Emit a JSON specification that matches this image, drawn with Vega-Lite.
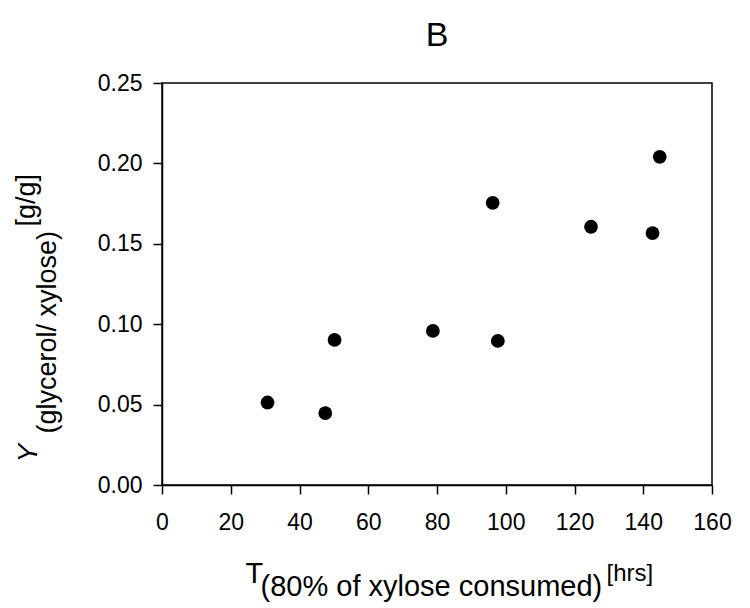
{
  "$schema": "https://vega.github.io/schema/vega-lite/v6.json",
  "width": 550,
  "height": 402,
  "autosize": "none",
  "padding": {"left": 162, "top": 83, "right": 38, "bottom": 123},
  "title": {
    "text": "B",
    "font": "Liberation Sans",
    "fontSize": 34,
    "fontWeight": "normal",
    "color": "black",
    "frame": "group",
    "anchor": "middle",
    "baseline": "alphabetic",
    "offset": 36,
    "dy": 44
  },
  "data": {
    "values": [
      {"t_hrs": 30.7, "yield": 0.0513},
      {"t_hrs": 47.5, "yield": 0.0447},
      {"t_hrs": 50.2, "yield": 0.0902},
      {"t_hrs": 78.8, "yield": 0.0958},
      {"t_hrs": 97.7, "yield": 0.0896},
      {"t_hrs": 96.2, "yield": 0.1755},
      {"t_hrs": 124.8, "yield": 0.1606},
      {"t_hrs": 142.7, "yield": 0.1567},
      {"t_hrs": 144.8, "yield": 0.2041}
    ]
  },
  "layer": [
    {
      "mark": {"type": "point", "filled": true, "size": 190, "color": "black", "opacity": 1},
      "encoding": {
        "x": {
          "field": "t_hrs", "type": "quantitative",
          "scale": {"domain": [0, 160], "nice": false, "zero": true},
          "axis": {
            "orient": "bottom",
            "values": [0, 20, 40, 60, 80, 100, 120, 140, 160],
            "labelFlush": false,
            "title": "T",
            "titleFontSize": 29,
            "titleAlign": "left",
            "titleAnchor": null,
            "titleBaseline": "alphabetic",
            "titleX": 83,
            "titleY": 97
          }
        },
        "y": {
          "field": "yield", "type": "quantitative",
          "scale": {"domain": [0, 0.25], "nice": false},
          "axis": {
            "orient": "left",
            "values": [0, 0.05, 0.1, 0.15, 0.2, 0.25],
            "format": ".2f",
            "labelFlush": false,
            "title": "Y",
            "titleFontSize": 28,
            "titleFontStyle": "italic",
            "titleAngle": -90,
            "titleAlign": "left",
            "titleAnchor": null,
            "titleBaseline": "alphabetic",
            "titleX": -126,
            "titleY": 379
          }
        }
      }
    },
    {
      "mark": {"type": "point", "opacity": 0},
      "encoding": {
        "x": {
          "field": "t_hrs", "type": "quantitative",
          "axis": {
            "orient": "bottom",
            "labels": false, "ticks": false, "domain": false,
            "title": "(80% of xylose consumed)",
            "titleFontSize": 29,
            "titleAlign": "left",
            "titleAnchor": null,
            "titleBaseline": "alphabetic",
            "titleX": 98,
            "titleY": 110
          }
        },
        "y": {
          "field": "yield", "type": "quantitative",
          "axis": {
            "orient": "left",
            "labels": false, "ticks": false, "domain": false,
            "title": "(glycerol/ xylose)",
            "titleFontSize": 27,
            "titleAngle": -90,
            "titleAlign": "left",
            "titleAnchor": null,
            "titleBaseline": "alphabetic",
            "titleX": -107,
            "titleY": 350
          }
        }
      }
    },
    {
      "mark": {"type": "point", "opacity": 0},
      "encoding": {
        "x": {
          "field": "t_hrs", "type": "quantitative",
          "axis": {
            "orient": "bottom",
            "labels": false, "ticks": false, "domain": false,
            "title": "[hrs]",
            "titleFontSize": 24,
            "titleAlign": "left",
            "titleAnchor": null,
            "titleBaseline": "alphabetic",
            "titleX": 444,
            "titleY": 95
          }
        },
        "y": {
          "field": "yield", "type": "quantitative",
          "axis": {
            "orient": "left",
            "labels": false, "ticks": false, "domain": false,
            "title": "[g/g]",
            "titleFontSize": 27,
            "titleAngle": -90,
            "titleAlign": "left",
            "titleAnchor": null,
            "titleBaseline": "alphabetic",
            "titleX": -128,
            "titleY": 143
          }
        }
      }
    }
  ],
  "resolve": {"axis": {"x": "independent", "y": "independent"}},
  "config": {
    "view": {"stroke": "black", "strokeWidth": 1.5},
    "axis": {
      "grid": false,
      "domainColor": "black",
      "domainWidth": 1.5,
      "tickColor": "black",
      "tickWidth": 1.5,
      "tickSize": 9,
      "labelFont": "Liberation Sans",
      "labelFontSize": 23,
      "labelColor": "black",
      "titleFont": "Liberation Sans",
      "titleFontWeight": "normal",
      "titleColor": "black"
    },
    "axisX": {"labelPadding": 17},
    "axisY": {"labelPadding": 11}
  }
}
